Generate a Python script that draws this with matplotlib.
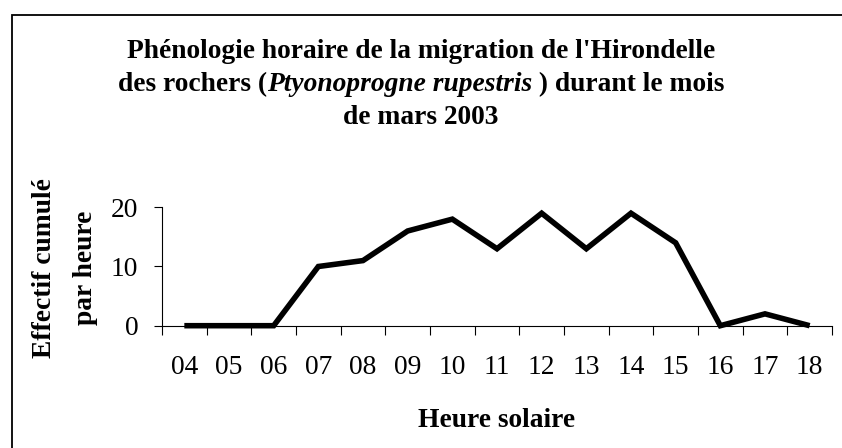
import matplotlib
matplotlib.use("Agg")
import matplotlib.pyplot as plt
from matplotlib.patches import Rectangle

hours = ["04", "05", "06", "07", "08", "09", "10", "11", "12", "13", "14", "15", "16", "17", "18"]
counts = [0, 0, 0, 10, 11, 16, 18, 13, 19, 13, 19, 14, 0, 2, 0]
yticks = [0, 10, 20]

title_line1 = "Phénologie horaire de la migration de l'Hirondelle"
title_line2_pre = "des rochers ("
title_line2_it = "Ptyonoprogne rupestris"
title_line2_post = " ) durant le mois"
title_line3 = "de mars 2003"
ylabel_1 = "Effectif cumulé"
ylabel_2 = "par heure"
xlabel = "Heure solaire"

W, H = 842, 448
FONT = "Liberation Serif"
FS = 19.8

plt.rcParams["font.family"] = [FONT, "DejaVu Serif"]

fig = plt.figure(figsize=(W / 100, H / 100), dpi=100)

def fx(px):
    return px / W

def fy(py):
    return 1 - py / H

# outer frame (open to the right/bottom like the reference crop)
fig.patches.append(Rectangle((fx(12), fy(15) - 2), 2, 2, transform=fig.transFigure,
                             fill=False, edgecolor="black", linewidth=1.3))

ax_l, ax_r, ax_t, ax_b = 162, 832, 207.3, 325.7
ax = fig.add_axes([fx(ax_l), fy(ax_b), fx(ax_r - ax_l), (ax_b - ax_t) / H])

x = list(range(len(hours)))
ax.plot(x, counts, color="black", linewidth=4.0, solid_joinstyle="miter",
        solid_capstyle="butt", clip_on=False)

ax.set_xlim(-0.5, len(hours) - 0.5)
ax.set_ylim(0, 20)
ax.set_yticks(yticks)
ax.set_yticklabels([str(v) for v in yticks], fontsize=FS)

ax.set_xticks([i - 0.5 for i in range(len(hours) + 1)])
ax.set_xticklabels([])
ax.set_xticks(x, minor=True)
ax.set_xticklabels(hours, minor=True, fontsize=FS)
ax.tick_params(axis="x", which="major", direction="out", length=6.5, width=0.8, color="black")
ax.tick_params(axis="x", which="minor", length=0, pad=21)
ax.tick_params(axis="y", direction="out", length=6, width=0.8, pad=11)

for s in ["top", "right"]:
    ax.spines[s].set_visible(False)
for s in ["left", "bottom"]:
    ax.spines[s].set_linewidth(0.8)
    ax.spines[s].set_color("black")
ax.set_facecolor("none")

# title
fig.text(fx(421), fy(58), title_line1, ha="center", va="baseline", fontsize=FS, fontweight="bold")
fig.text(fx(421), fy(124), title_line3, ha="center", va="baseline", fontsize=FS, fontweight="bold")

renderer = fig.canvas.get_renderer()
t1 = fig.text(0, fy(91), title_line2_pre, ha="left", va="baseline", fontsize=FS, fontweight="bold")
t2 = fig.text(0, fy(91), title_line2_it, ha="left", va="baseline", fontsize=FS, fontweight="bold", fontstyle="italic")
t3 = fig.text(0, fy(91), title_line2_post, ha="left", va="baseline", fontsize=FS, fontweight="bold")
w1 = t1.get_window_extent(renderer).width
w2 = t2.get_window_extent(renderer).width
w3 = t3.get_window_extent(renderer).width
start = 421 - (w1 + w2 + w3) / 2
t1.set_x(fx(start))
t2.set_x(fx(start + w1))
t3.set_x(fx(start + w1 + w2))

# y label (two lines)
fig.text(fx(45), fy(268), ylabel_1, rotation=90, ha="center", va="center", fontsize=FS, fontweight="bold")
fig.text(fx(86), fy(268), ylabel_2, rotation=90, ha="center", va="center", fontsize=FS, fontweight="bold")

# x label
fig.text(fx(497), fy(427), xlabel, ha="center", va="baseline", fontsize=FS, fontweight="bold")

fig.savefig("out.png", dpi=100, facecolor="white")
